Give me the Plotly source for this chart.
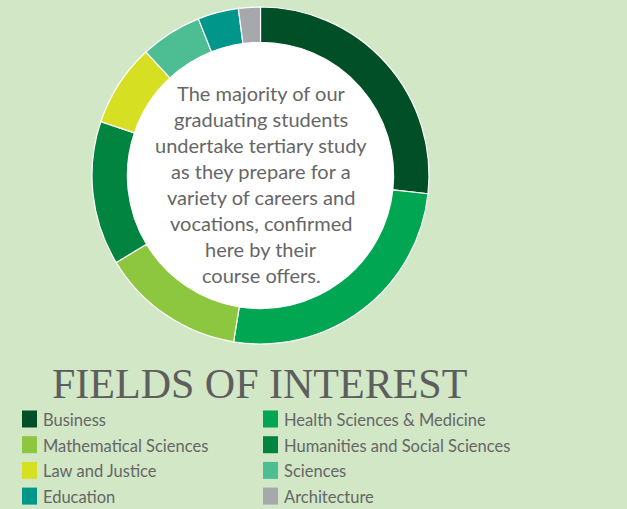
import plotly.graph_objects as go

fields = ["Business", "Health Sciences & Medicine", "Mathematical Sciences",
          "Humanities and Social Sciences", "Law and Justice", "Sciences",
          "Education", "Architecture"]
shares = [26.7, 25.8, 13.8, 13.8, 7.9, 5.9, 3.9, 2.1]
colors = ["#004f27", "#00a651", "#8dc63f", "#008440", "#d7df23", "#4dbd94",
          "#00968a", "#a6a8ab"]
legend_order = ["Business", "Health Sciences & Medicine", "Mathematical Sciences",
                "Humanities and Social Sciences", "Law and Justice", "Sciences",
                "Education", "Architecture"]
center_lines = ["The majority of our", "graduating students", "undertake tertiary study",
                "as they prepare for a", "variety of careers and", "vocations, confirmed",
                "here by their", "course offers."]
title_text = "FIELDS OF INTEREST"

W, H = 627, 509
BG = "#d1e7c6"
TXT = "#666666"

fig = go.Figure()
fig.add_trace(go.Pie(
    labels=fields, values=shares, hole=0.79, sort=False, direction="clockwise",
    rotation=0, marker=dict(colors=colors, line=dict(color="white", width=1.2)),
    textinfo="none", hoverinfo="label+percent", showlegend=False,
    domain=dict(x=[92 / W, 429 / W], y=[1 - 344 / H, 1 - 7 / H]),
))

def px(x):
    return x / W

def py(y):
    return 1 - y / H

annotations = []
shapes = []
# white centre disc
shapes.append(dict(type="circle", xref="paper", yref="paper", layer="below",
                   x0=px(260.5 - 134), x1=px(260.5 + 134),
                   y0=py(175.5 + 134), y1=py(175.5 - 134),
                   fillcolor="white", line=dict(width=0)))
# center text
for i, line in enumerate(center_lines):
    annotations.append(dict(x=px(261), y=py(93 + i * 26), xref="paper", yref="paper",
                            text=line, showarrow=False, xanchor="center", yanchor="middle",
                            font=dict(family="Lato", size=20, color=TXT)))
# title
annotations.append(dict(x=px(50), y=py(384), xref="paper", yref="paper", text=title_text,
                        showarrow=False, xanchor="left", yanchor="middle",
                        font=dict(family="Liberation Serif", size=42, color="#5e5e5e")))
# legend
cmap = dict(zip(fields, colors))
for i, name in enumerate(legend_order):
    col, row = i % 2, i // 2
    mx = 22 if col == 0 else 263
    cy = 419 + row * 25.7
    shapes.append(dict(type="rect", xref="paper", yref="paper",
                       x0=px(mx), x1=px(mx + 15), y0=py(cy - 8.5), y1=py(cy + 8.5),
                       fillcolor=cmap[name], line=dict(width=0)))
    annotations.append(dict(x=px(mx + 19), y=py(cy + 1), xref="paper", yref="paper",
                            text=name, showarrow=False, xanchor="left", yanchor="middle",
                            font=dict(family="Lato", size=16.5, color=TXT)))

fig.update_layout(width=W, height=H, margin=dict(l=0, r=0, t=0, b=0),
                  paper_bgcolor=BG, plot_bgcolor=BG,
                  annotations=annotations, shapes=shapes)
fig.write_html("out.html")
